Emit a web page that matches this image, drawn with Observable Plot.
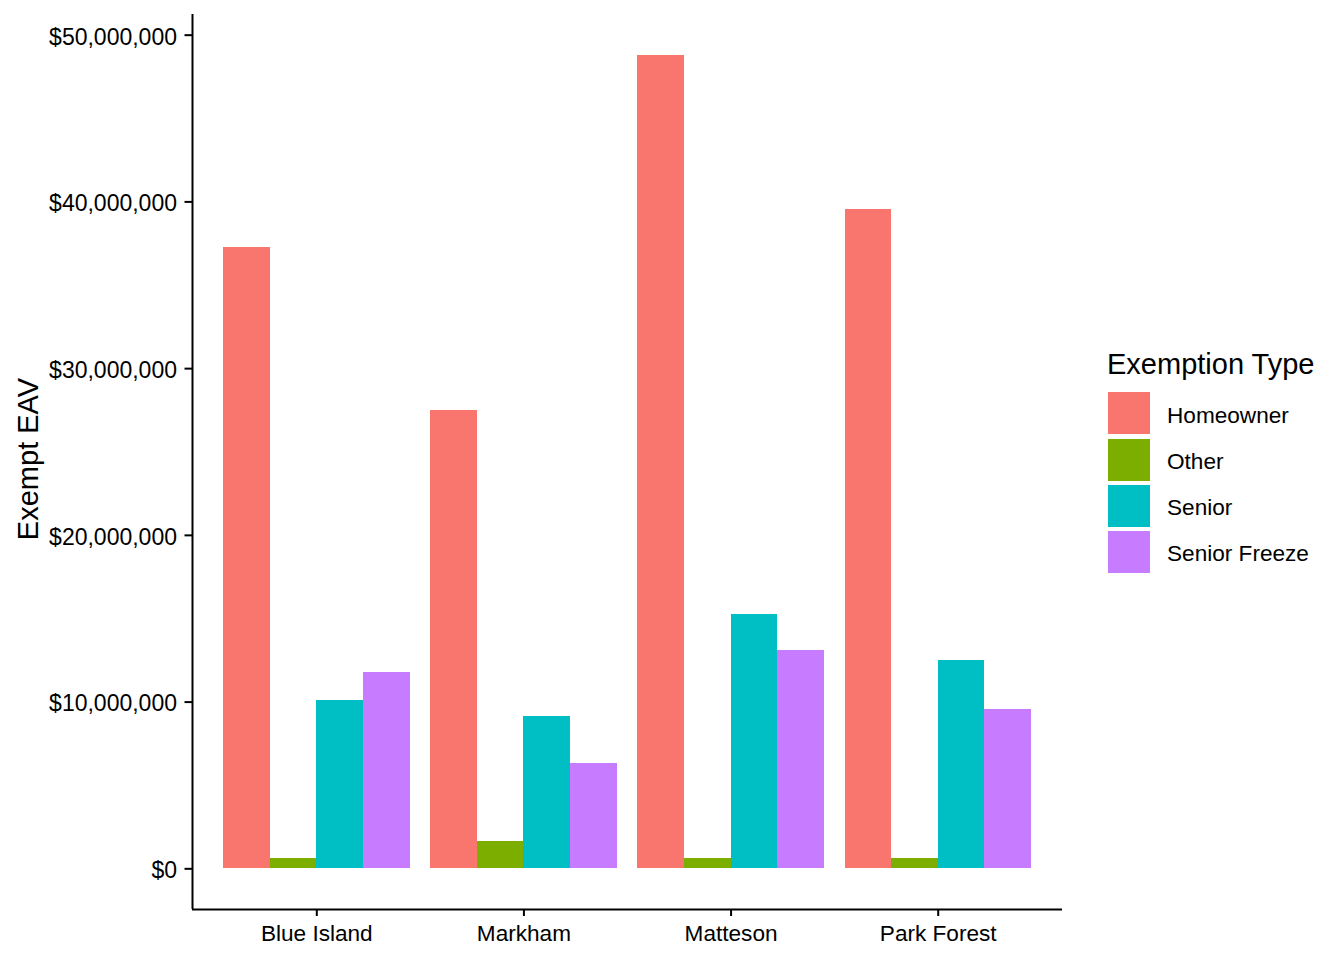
<!DOCTYPE html>
<html>
<head>
<meta charset="utf-8">
<script src="https://cdn.jsdelivr.net/npm/d3@7"></script>
<script src="https://cdn.jsdelivr.net/npm/@observablehq/plot@0.6"></script>
<style>
  body { margin: 0; background: #fff; }
  #wrap { position: relative; width: 1344px; height: 960px; font-family: "Liberation Sans", Arial, sans-serif; color: #000; }
  #wrap svg { display: block; }
  .lg { position: absolute; white-space: nowrap; }
</style>
</head>
<body>
<div id="wrap"></div>
<script>
// ---- data ----
const towns = ["Blue Island", "Markham", "Matteson", "Park Forest"];
const types = ["Homeowner", "Other", "Senior", "Senior Freeze"];
const homeowner    = [37.27e6, 27.49e6, 48.80e6, 39.56e6];
const other        = [0.60e6, 1.62e6, 0.60e6, 0.60e6];
const senior       = [10.08e6, 9.12e6, 15.25e6, 12.48e6];
const seniorFreeze = [11.76e6, 6.30e6, 13.09e6, 9.54e6];
const typeColors = ["#F8766D", "#7CAE00", "#00BFC4", "#C77CFF"];
const yTicks = [0, 10e6, 20e6, 30e6, 40e6, 50e6];
const legendTitle = "Exemption Type";
const yTitle = "Exempt EAV";

// ---- build table (ggplot-style dodge: group width 0.9) ----
const series = [homeowner, other, senior, seniorFreeze];
const groupWidth = 0.9;
const barW = groupWidth / types.length;
const data = towns.flatMap((town, i) =>
  types.map((type, j) => ({
    town, type,
    value: series[j][i],
    x1: i + 1 - groupWidth / 2 + j * barW,
    x2: i + 1 - groupWidth / 2 + (j + 1) * barW
  }))
);

const maxV = d3.max(data, d => d.value);
const yDomain = [-0.05 * maxV, maxV * 1.05];
const xDomain = [0.4, towns.length + 0.6];
const fmt = d => "$" + d3.format(",")(d);

const chart = Plot.plot({
  width: 1344,
  height: 960,
  marginLeft: 192,
  marginRight: 282,
  marginTop: 14,
  marginBottom: 51,
  style: { fontFamily: '"Liberation Sans", Arial, sans-serif', fontSize: "23px", color: "#000", background: "#fff" },
  x: { type: "linear", domain: xDomain, axis: null },
  y: { domain: yDomain, axis: null },
  color: { domain: types, range: typeColors },
  marks: [
    Plot.rect(data, { x1: "x1", x2: "x2", y1: 0, y2: "value", fill: "type", shapeRendering: "crispEdges" }),
    Plot.axisY({ ticks: yTicks, tickFormat: null, text: null, tickSize: 7.5, strokeWidth: 2, label: null }),
    Plot.axisY({ ticks: yTicks, tickFormat: fmt, tickSize: 0, tickPadding: 15.5, dy: 2, label: null, fontSize: 23 }),
    Plot.axisX({ ticks: towns.map((t, i) => i + 1), tickFormat: d => towns[d - 1], tickSize: 7, tickPadding: 8, strokeWidth: 2, label: null, fontSize: 22.6 }),
    Plot.ruleX([xDomain[0]], { strokeWidth: 2, stroke: "#000" }),
    Plot.ruleY([yDomain[0]], { strokeWidth: 2, stroke: "#000" }),
    Plot.text([yTitle], { frameAnchor: "left", dx: -164, dy: -3, rotate: -90, textAnchor: "middle", fontSize: 29, fill: "#000" })
  ]
});

const wrap = document.getElementById("wrap");
wrap.appendChild(chart);

// ---- legend (right side) ----
const color = chart.scale("color");
const t = document.createElement("div");
t.className = "lg";
t.textContent = legendTitle;
Object.assign(t.style, { left: "1107px", top: "350px", fontSize: "29px", lineHeight: "29px" });
wrap.appendChild(t);
color.domain.forEach((name, k) => {
  const top = 392.3 + k * 46.2;
  const sw = document.createElement("div");
  sw.className = "lg";
  Object.assign(sw.style, { left: "1108px", top: top + "px", width: "42px", height: "42px", background: color.range[k] });
  wrap.appendChild(sw);
  const lb = document.createElement("div");
  lb.className = "lg";
  lb.textContent = name;
  Object.assign(lb.style, { left: "1167px", top: (top + 12.5) + "px", fontSize: "22.6px", lineHeight: "22.6px" });
  wrap.appendChild(lb);
});
</script>
</body>
</html>
